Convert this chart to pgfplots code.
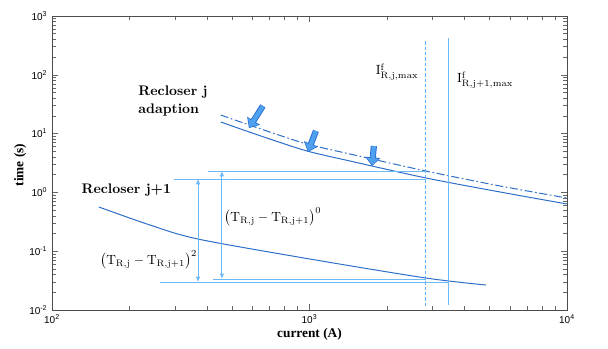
\documentclass[border=0pt]{standalone}
\usepackage{fontspec}
\usepackage{pgfplots}
\pgfplotsset{compat=1.18}
\usetikzlibrary{arrows.meta}
\newfontfamily\hv{Liberation Sans}
\newfontfamily\tms{Liberation Serif}
\definecolor{curve}{RGB}{45,110,200}
\definecolor{light}{RGB}{110,185,245}
\definecolor{dashc}{RGB}{90,170,245}
\definecolor{afill}{RGB}{80,160,240}
\definecolor{aedge}{RGB}{40,110,210}
\tikzset{
  bigedge/.style={aedge, line width=4.6pt, -{Triangle[length=6.5pt,width=11pt]}},
  bigfill/.style={afill, line width=3.2pt, shorten >=0.9pt, -{Triangle[length=5pt,width=8.8pt]}},
}
\newcommand\logtick{\hv\fontsize{7.5}{8}\selectfont 10\textsuperscript{\pgfmathparse{int(round(\tick/ln(10)))}\pgfmathresult}}

\begin{document}
\begin{tikzpicture}
\useasboundingbox (-39pt,-29.25pt) rectangle (417pt,232.5pt);
\begin{axis}[
    scale only axis,
    width=386.25pt, height=220.5pt,
    xmode=log, ymode=log,
    xmin=100, xmax=10000, ymin=0.01, ymax=1000,
    tick align=inside,
    axis line style={black!70},
    every tick/.style={black!60},
    xticklabel={\logtick},
    yticklabel={\logtick},
    xlabel={\tms\bfseries current (A)},
    ylabel={\tms\bfseries time (s)},
    xlabel style={at={(axis description cs:0.5,-0.082)},anchor=center},
    ylabel style={at={(axis description cs:-0.062,0.493)},anchor=center},
]
% recloser j (original)
\addplot[curve, line width=0.75pt, smooth] coordinates {
    (452,15.74) (665,8.75) (978,5.06) (1435,3.42) (2831,1.76) (5495,1.016) (10000,0.635)};
% recloser j (adapted)
\addplot[curve, line width=0.75pt, smooth, dash pattern=on 6pt off 2pt on 1.2pt off 2pt] coordinates {
    (452,20.7) (665,11.5) (978,6.65) (1435,4.50) (2831,2.31) (5495,1.285) (10000,0.803)};
% recloser j+1
\addplot[curve, line width=0.75pt, smooth] coordinates {
    (152,0.565) (240,0.279) (369,0.161) (1004,0.0736) (2831,0.035) (4843,0.0266)};

% max fault currents
\addplot[dashc, line width=0.9pt, dash pattern=on 2.5pt off 1.5pt] coordinates {(2831,0.0117) (2831,391)};
\addplot[light, line width=0.75pt] coordinates {(3451,0.0122) (3451,423)};

% reference lines
\addplot[light, line width=0.6pt] coordinates {(404,2.31) (2831,2.31)};
\addplot[light, line width=0.6pt] coordinates {(298,1.69) (2831,1.69)};
\addplot[light, line width=0.6pt] coordinates {(422,0.0337) (2831,0.0337)};
\addplot[light, line width=0.6pt] coordinates {(262,0.0299) (3451,0.0299)};

% margins
\draw[light, line width=0.75pt, {Latex[length=4pt,width=3.5pt]}-{Latex[length=4pt,width=3.5pt]}]
    (axis cs:369,1.69) -- (axis cs:369,0.0299);
\draw[light, line width=0.75pt, {Latex[length=4pt,width=3.5pt]}-{Latex[length=4pt,width=3.5pt]}]
    (axis cs:457,2.31) -- (axis cs:457,0.0337);

% adaption arrows
\draw[bigedge] (axis cs:659,29.5) -- (axis cs:582,12.4);
\draw[bigfill] (axis cs:659,29.5) -- (axis cs:582,12.4);
\draw[bigedge] (axis cs:1059,11.1) -- (axis cs:986,4.87);
\draw[bigfill] (axis cs:1059,11.1) -- (axis cs:986,4.87);
\draw[bigedge] (axis cs:1778,6.15) -- (axis cs:1750,2.81);
\draw[bigfill] (axis cs:1778,6.15) -- (axis cs:1750,2.81);

% labels
\node[anchor=north west, align=left, font=\bfseries\fontsize{10.4}{13}\selectfont, inner sep=0pt]
    at (axis cs:216,64.6) {Recloser j\\adaption};
\node[anchor=west, font=\bfseries\fontsize{10.4}{13}\selectfont, inner sep=0pt]
    at (axis cs:130,1.10) {Recloser j+1};
\node[anchor=west, inner sep=0pt] at (axis cs:466,0.382)
    {$\bigl(\mathrm{T}_{\mathrm{R,j}}-\mathrm{T}_{\mathrm{R,j+1}}\bigr)^{0}$};
\node[anchor=west, inner sep=0pt] at (axis cs:153.5,0.0708)
    {$\bigl(\mathrm{T}_{\mathrm{R,j}}-\mathrm{T}_{\mathrm{R,j+1}}\bigr)^{2}$};
\node[inner sep=0pt] at (axis cs:2188,111.7) {$\mathrm{I}^{\mathrm{f}}_{\mathrm{R,j,max}}$};
\node[inner sep=0pt] at (axis cs:4808,81.7) {$\mathrm{I}^{\mathrm{f}}_{\mathrm{R,j+1,max}}$};
\end{axis}
\end{tikzpicture}
\end{document}
